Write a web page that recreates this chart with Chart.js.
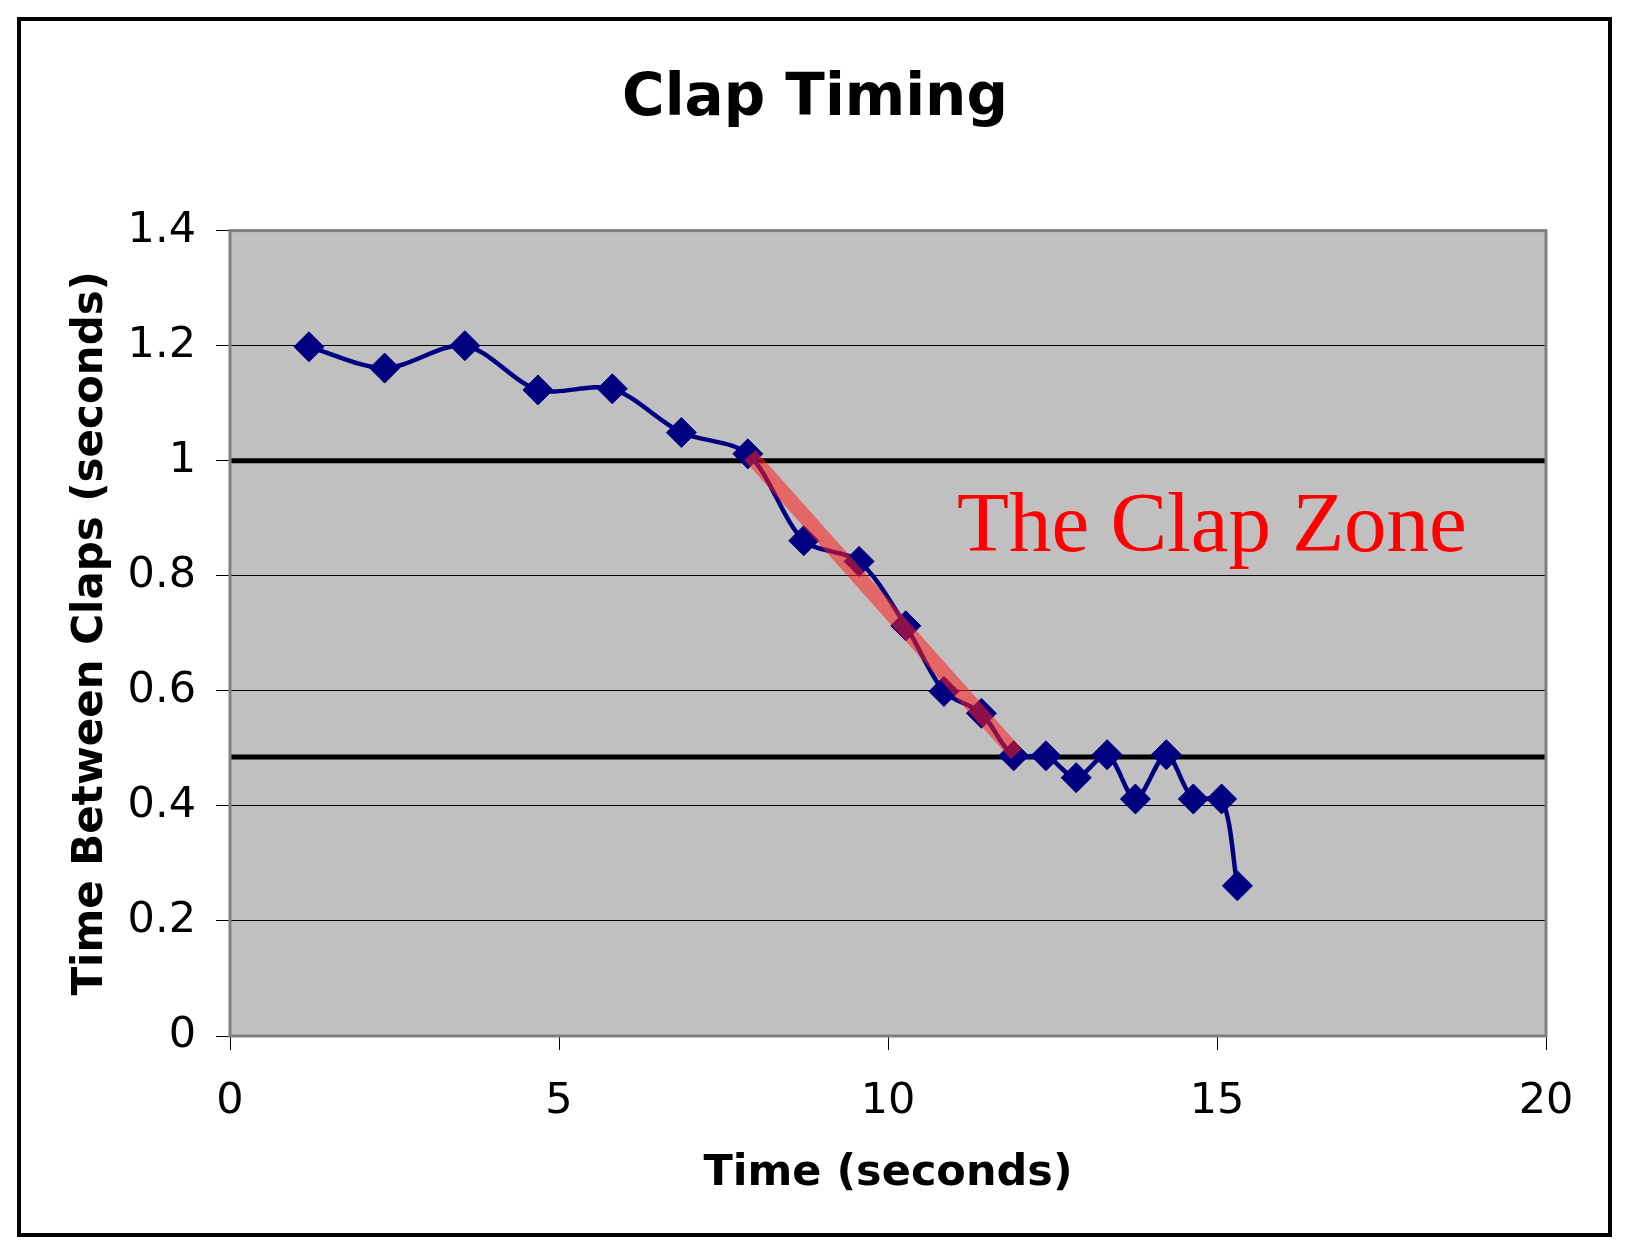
<!DOCTYPE html>
<html>
<head>
<meta charset="utf-8">
<title>Clap Timing</title>
<script src="https://cdn.jsdelivr.net/npm/chart.js@4.4.1/dist/chart.umd.min.js"></script>
<style>
  html, body { margin: 0; padding: 0; background: #fff; }
  canvas { display: block; }
</style>
</head>
<body>
<canvas id="clapChart" width="1630" height="1255"></canvas>
<script>
/* === DATA === */
const clapTimes = [1.20, 2.35, 3.57, 4.68, 5.81, 6.86, 7.87, 8.72, 9.56, 10.27, 10.85,
  11.42, 11.91, 12.40, 12.86, 13.33, 13.76, 14.23, 14.64, 15.07, 15.31];
const clapGaps = [1.198, 1.161, 1.200, 1.123, 1.125, 1.049, 1.012, 0.861, 0.825, 0.713, 0.599,
  0.561, 0.487, 0.487, 0.449, 0.489, 0.412, 0.489, 0.412, 0.412, 0.261];

// the two bounds of the "clap zone" and the red trend band through it
const zoneBounds = [1.0, 0.485];
const zoneXRange = [0, 20];
const bandX = [7.9, 11.95];
const bandY = [1.01, 0.49];

const xTicks = [0, 5, 10, 15, 20];
const yTicks = [0, 0.2, 0.4, 0.6, 0.8, 1, 1.2, 1.4];

const FONT = "'DejaVu Sans', Verdana, sans-serif";

/* === HELPERS === */
function toPoints(xs, ys) {
  return xs.map((x, i) => ({ x, y: ys[i] }));
}

function boundLine(value) {
  return {
    data: toPoints(zoneXRange, [value, value]),
    borderColor: "#000",
    borderWidth: 5,
    pointRadius: 0,
    tension: 0,
    order: 3
  };
}

/* === PLOT FRAME / EXTRAS === */
const framePlugin = {
  id: "frame",
  beforeDraw(chart) {
    const { ctx, chartArea: a } = chart;
    ctx.save();
    ctx.fillStyle = "#fff";
    ctx.fillRect(0, 0, chart.width, chart.height);
    ctx.fillStyle = "#c0c0c0";
    ctx.fillRect(a.left, a.top, a.right - a.left, a.bottom - a.top);
    ctx.restore();
  },
  afterDraw(chart) {
    const { ctx, chartArea: a } = chart;
    ctx.save();
    // plot area border
    ctx.strokeStyle = "#808080";
    ctx.lineWidth = 3;
    ctx.strokeRect(a.left, a.top, a.right - a.left, a.bottom - a.top);
    // outer chart border
    ctx.strokeStyle = "#000";
    ctx.lineWidth = 4;
    ctx.strokeRect(19, 19, 1591, 1216);
    // annotation
    ctx.fillStyle = "#ff0000";
    ctx.font = "85px 'Liberation Serif', 'Times New Roman', serif";
    ctx.textBaseline = "alphabetic";
    ctx.fillText("The Clap Zone", 957, 551);
    ctx.restore();
  }
};

/* === CHART === */
new Chart(document.getElementById("clapChart"), {
  type: "line",
  data: {
    datasets: [
      {
        data: toPoints(bandX, bandY),
        borderColor: "rgba(255, 30, 30, 0.55)",
        borderWidth: 15,
        borderCapStyle: "butt",
        pointRadius: 0,
        tension: 0,
        order: 1
      },
      {
        data: toPoints(clapTimes, clapGaps),
        borderColor: "#000080",
        borderWidth: 4.5,
        backgroundColor: "#000080",
        pointStyle: "rectRot",
        pointRadius: 15,
        pointBorderWidth: 1,
        pointBorderColor: "#000080",
        pointBackgroundColor: "#000080",
        tension: 0.3,
        order: 2
      },
      boundLine(zoneBounds[0]),
      boundLine(zoneBounds[1])
    ]
  },
  options: {
    responsive: false,
    devicePixelRatio: 1,
    animation: false,
    layout: { padding: { left: 84, right: 84, top: 0, bottom: 0 } },
    plugins: {
      legend: { display: false },
      tooltip: { enabled: false },
      title: {
        display: true,
        text: "Clap Timing",
        color: "#000",
        font: { family: FONT, size: 58, weight: "bold", lineHeight: 1.2 },
        padding: { top: 65, bottom: 96 }
      }
    },
    scales: {
      x: {
        type: "linear",
        min: 0,
        max: 20,
        afterFit(scale) { scale.height = 219; },
        afterBuildTicks(scale) { scale.ticks = xTicks.map(v => ({ value: v })); },
        ticks: {
          color: "#000",
          font: { family: FONT, size: 43 },
          padding: 26,
          maxRotation: 0
        },
        grid: {
          drawOnChartArea: false,
          drawTicks: true,
          tickLength: 14,
          tickColor: "#000",
          tickWidth: 1
        },
        border: { display: false },
        title: {
          display: true,
          text: "Time (seconds)",
          color: "#000",
          font: { family: FONT, size: 43, weight: "bold", lineHeight: 1.2 },
          padding: { top: 0, bottom: 55 }
        }
      },
      y: {
        type: "linear",
        min: 0,
        max: 1.4,
        afterFit(scale) { scale.width = 146; },
        afterBuildTicks(scale) { scale.ticks = yTicks.map(v => ({ value: v })); },
        ticks: {
          color: "#000",
          font: { family: FONT, size: 43 },
          padding: 20,
          callback: v => String(Math.round(v * 10) / 10)
        },
        grid: {
          color: c => (c.tick && (c.tick.value === 0 || c.tick.value === 1.4)) ? "rgba(0,0,0,0)" : "#000",
          lineWidth: 1,
          drawTicks: true,
          tickLength: 14,
          tickColor: "#000",
          tickWidth: 1
        },
        border: { display: false },
        title: {
          display: true,
          text: "Time Between Claps (seconds)",
          color: "#000",
          font: { family: FONT, size: 42, weight: "bold", lineHeight: 0.2 },
          padding: { top: 3, bottom: 0 }
        }
      }
    }
  },
  plugins: [framePlugin]
});
</script>
</body>
</html>
